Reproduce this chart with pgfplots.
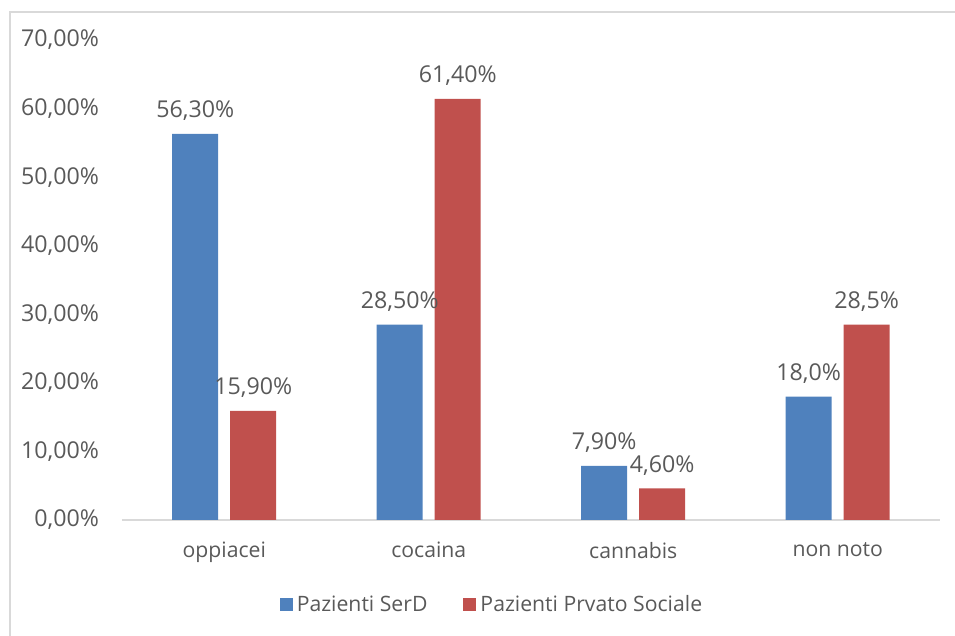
\documentclass[border=0pt]{standalone}
\usepackage{pgfplots}
\pgfplotsset{compat=1.18}
\usepackage{fontspec}
\setmainfont{Open Sans}
\definecolor{serd}{HTML}{4F81BD}
\definecolor{priv}{HTML}{C0504D}
\definecolor{txt}{HTML}{595959}
\definecolor{axl}{HTML}{D9D9D9}
\begin{document}
\begin{tikzpicture}
\useasboundingbox (0,0) rectangle (477.5pt,318pt);
\draw[axl, line width=0.7pt] (5pt,0) -- (5pt,312pt) -- (477.5pt,312pt);
\begin{axis}[
  at={(61pt,58pt)}, anchor=south west,
  scale only axis, width=409pt, height=240pt,
  ybar=6pt, bar width=23pt,
  xmin=-0.5, xmax=3.5, ymin=0, ymax=70,
  xtick={0,1,2,3},
  xticklabels={oppiacei,cocaina,cannabis,non noto},
  ytick={0,10,20,30,40,50,60,70},
  yticklabels={{0,00\%},{10,00\%},{20,00\%},{30,00\%},{40,00\%},{50,00\%},{60,00\%},{70,00\%}},
  major tick length=0pt,
  axis y line*=left,
  axis x line*=bottom,
  y axis line style={draw=none},
  x axis line style={axl, line width=1pt, -},
  separate axis lines,
  font=\fontsize{10.6pt}{12pt}\selectfont,
  ticklabel style={txt},
  yticklabel style={anchor=east, xshift=-8pt, font=\fontsize{11.6pt}{13pt}\selectfont},
  xticklabel style={anchor=north, yshift=-7.5pt, font=\fontsize{10.6pt}{12pt}\selectfont},
  nodes near coords,
  point meta=explicit symbolic,
  nodes near coords style={txt, font=\fontsize{11.6pt}{13pt}\selectfont, anchor=south, yshift=3pt},
  legend columns=2,
  legend style={at={(0.4535,-0.177)}, anchor=center, draw=none, fill=none,
    text=txt, font=\fontsize{10.6pt}{12pt}\selectfont,
    /tikz/every even column/.append style={column sep=16pt}},
  legend image code/.code={\fill[#1] (0pt,-3.25pt) rectangle (6.5pt,3.25pt);},
]
\addplot[fill=serd, draw=none] table[x=x, y=y, meta=l] {
x y l
0 56.3 56,30\%
1 28.5 28,50\%
2 7.9 7,90\%
3 18.0 18,0\%
};
\addplot[fill=priv, draw=none] table[x=x, y=y, meta=l] {
x y l
0 15.9 15,90\%
1 61.4 61,40\%
2 4.6 4,60\%
3 28.5 28,5\%
};
\legend{Pazienti SerD, Pazienti Prvato Sociale}
\end{axis}
\end{tikzpicture}
\end{document}
